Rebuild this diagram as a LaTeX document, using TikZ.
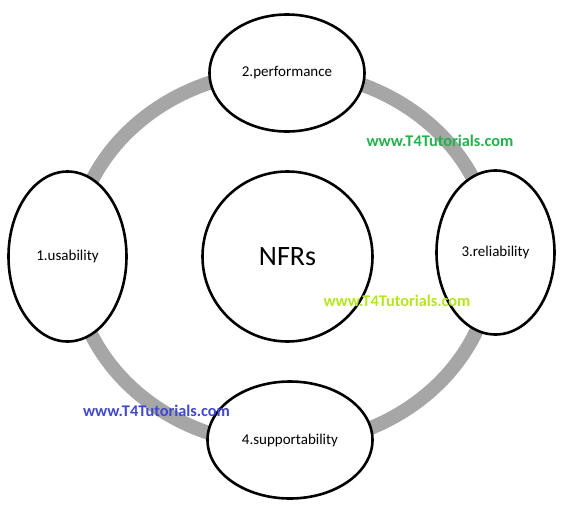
\documentclass[tikz,border=0pt]{standalone}
\usepackage{fontspec}
\setmainfont{Carlito}
\usetikzlibrary{shapes.geometric}
\definecolor{ringgray}{RGB}{166,166,166}
\definecolor{wmgreen}{RGB}{34,177,76}
\definecolor{wmlime}{RGB}{181,230,29}
\definecolor{wmblue}{RGB}{63,72,204}
\tikzset{
  ringline/.style={draw=ringgray, line width=14pt},
  nfrbox/.style={shape=ellipse, draw=black, fill=white, line width=2.6pt, inner sep=0pt, font=\fontsize{15}{18}\selectfont},
  hubbox/.style={shape=circle, draw=black, fill=white, line width=2.6pt, inner sep=0pt, minimum size=170pt, font=\fontsize{28}{32}\selectfont},
  wmark/.style={font=\fontsize{16.3}{19}\selectfont\bfseries, inner sep=0pt}
}
\begin{document}
\begin{tikzpicture}[x=1pt, y=-1pt]
\useasboundingbox (0,0) rectangle (566,507);
\coordinate (ringc) at (283,258);
\draw[ringline] (ringc) ellipse [x radius=210, y radius=187];
\node[hubbox] (hub) at (287.5,256.5) {NFRs};
\node[nfrbox, minimum width=155pt, minimum height=117pt] (perf) at (287,73) {2.performance};
\node[nfrbox, minimum width=118pt, minimum height=170pt] (usab) at (67.5,256.5) {1.usability};
\node[nfrbox, minimum width=118pt, minimum height=164pt] (reli) at (495.5,252.5) {3.reliability};
\node[nfrbox, minimum width=165pt, minimum height=117pt] (supp) at (290,440) {4.supportability};
\node[wmark, text=wmgreen] (wm1) at (440,141) {www.T4Tutorials.com};
\node[wmark, text=wmlime] (wm2) at (397,301) {www.T4Tutorials.com};
\node[wmark, text=wmblue] (wm3) at (156.5,411) {www.T4Tutorials.com};
\end{tikzpicture}
\end{document}
